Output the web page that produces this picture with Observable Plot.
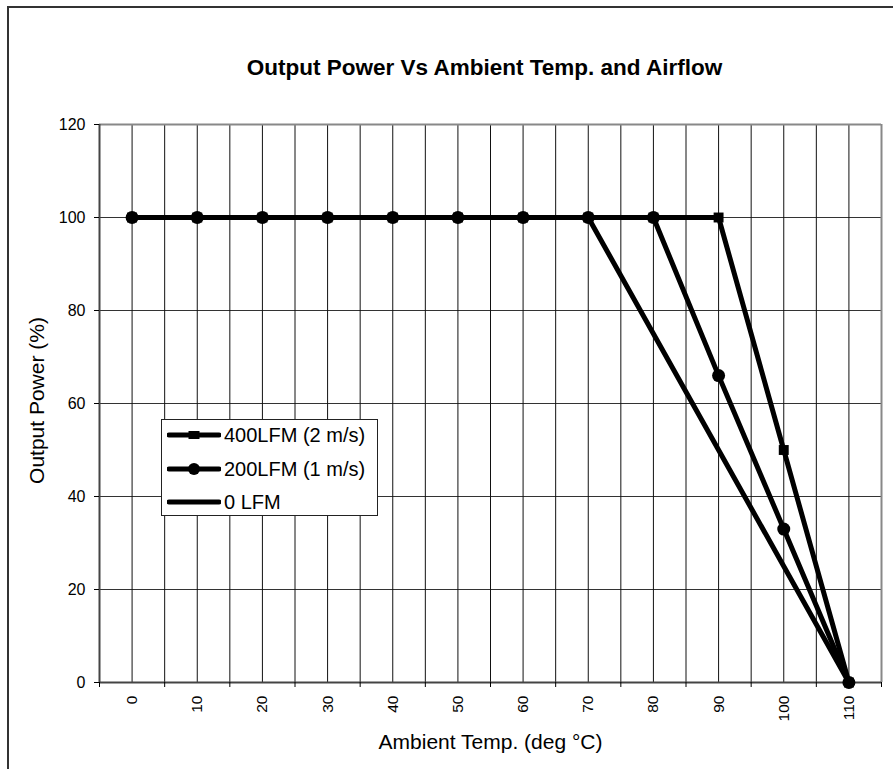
<!DOCTYPE html>
<html>
<head>
<meta charset="utf-8">
<script src="https://cdn.jsdelivr.net/npm/d3@7"></script>
<script src="https://cdn.jsdelivr.net/npm/@observablehq/plot@0.6"></script>
<style>
  html, body { margin: 0; padding: 0; background: #fff; overflow: hidden; width: 893px; height: 769px; }
  #frame { position: absolute; left: 7px; top: 6px; width: 1000px; height: 1000px; border-left: 2px solid #333; border-top: 2px solid #333; }
  #chart { position: absolute; left: 0; top: 0; }
  #legend { position: absolute; left: 161px; top: 419px; width: 217px; height: 97px; box-sizing: border-box; border: 1px solid #222; background: #fff; font-family: "Liberation Sans", Arial, sans-serif; font-size: 20px; color: #000; }
  .row { position: absolute; left: 0; height: 20px; line-height: 20px; white-space: nowrap; }
  .row svg { position: absolute; left: 5px; top: 0; }
  .row span { position: absolute; left: 62px; top: 0; }
</style>
</head>
<body>
<div id="frame"></div>
<div id="chart"></div>
<div id="legend"></div>
<script>
const temps = [0, 10, 20, 30, 40, 50, 60, 70, 80, 90, 100, 110];
const lfm400 = [100, 100, 100, 100, 100, 100, 100, 100, 100, 100, 50, 0];
const lfm200 = [100, 100, 100, 100, 100, 100, 100, 100, 100, 66, 33, 0];
const lfm0   = [100, 100, 100, 100, 100, 100, 100, 100, 75, 50, 25, 0];
const seriesNames = ["400LFM (2 m/s)", "200LFM (1 m/s)", "0 LFM"];
const seriesSymbols = ["square", "circle", null];
const yTicks = [0, 20, 40, 60, 80, 100, 120];
const xBoundaries = [-5, 5, 15, 25, 35, 45, 55, 65, 75, 85, 95, 105, 115];
const titleText = "Output Power Vs Ambient Temp. and Airflow";
const xLabelText = "Ambient Temp. (deg °C)";
const yLabelText = "Output Power (%)";

const toRows = (vals) => temps.map((t, i) => ({t, v: vals[i]}));
const rows400 = toRows(lfm400);
const rows200 = toRows(lfm200);
const rows0 = toRows(lfm0);

const font = "'Liberation Sans', Arial, sans-serif";

const chart = Plot.plot({
  width: 893,
  height: 769,
  marginTop: 124,
  marginRight: 12,
  marginBottom: 87,
  marginLeft: 99,
  style: {fontFamily: font, background: "transparent", color: "#000", overflow: "visible"},
  x: {type: "linear", domain: [xBoundaries[0], xBoundaries[xBoundaries.length - 1]], label: null},
  y: {type: "linear", domain: [yTicks[0], yTicks[yTicks.length - 1]], label: null},
  marks: [
    Plot.ruleY(yTicks, {stroke: "#333", strokeWidth: 1}),
    Plot.ruleX(temps, {stroke: "#111", strokeWidth: 1}),
    Plot.ruleX(xBoundaries.slice(1, -1), {stroke: "#111", strokeWidth: 1}),
    Plot.ruleY([yTicks[yTicks.length - 1]], {stroke: "#888", strokeWidth: 2}),
    Plot.ruleX([xBoundaries[xBoundaries.length - 1]], {stroke: "#888", strokeWidth: 2}),
    Plot.ruleX([xBoundaries[0]], {stroke: "#444", strokeWidth: 2}),
    Plot.ruleY([yTicks[0]], {stroke: "#444", strokeWidth: 2}),
    Plot.axisY({ticks: yTicks, tickSize: 5, tickPadding: 9, fontSize: 16, label: null}),
    Plot.axisX({ticks: xBoundaries, tickSize: 5, tickFormat: () => "", label: null}),
    Plot.axisX({ticks: temps, tickSize: 0, tickPadding: 13, tickRotate: -90, fontSize: 15.5, label: null}),
    Plot.line(rows0, {x: "t", y: "v", stroke: "#000", strokeWidth: 5}),
    Plot.line(rows400, {x: "t", y: "v", stroke: "#000", strokeWidth: 5}),
    Plot.line(rows200, {x: "t", y: "v", stroke: "#000", strokeWidth: 5}),
    Plot.dot(rows400, {x: "t", y: "v", symbol: "square", r: 5.6, fill: "#000", stroke: "none"}),
    Plot.dot(rows200, {x: "t", y: "v", symbol: "circle", r: 6.5, fill: "#000", stroke: "none"}),
    Plot.text([titleText], {text: d => d, frameAnchor: "top", dy: -50, dx: -6, textAnchor: "middle", lineAnchor: "bottom", fontSize: 22.5, fontWeight: "bold", fill: "#000"}),
    Plot.text([xLabelText], {text: d => d, frameAnchor: "bottom", dy: 66, textAnchor: "middle", lineAnchor: "bottom", fontSize: 21, fill: "#000"}),
    Plot.text([yLabelText], {text: d => d, frameAnchor: "left", dx: -56, dy: -3, rotate: -90, textAnchor: "middle", lineAnchor: "bottom", fontSize: 21, fill: "#000"})
  ]
});
document.getElementById("chart").appendChild(chart);

// Legend
const legend = document.getElementById("legend");
seriesNames.forEach((name, i) => {
  const row = document.createElement("div");
  row.className = "row";
  row.style.top = (5 + i * 33.5) + "px";
  const sym = seriesSymbols[i];
  let marker = "";
  if (sym === "square") marker = `<rect x="21.5" y="6" width="11" height="8" fill="#000"/>`;
  else if (sym === "circle") marker = `<circle cx="27" cy="10" r="6" fill="#000"/>`;
  row.innerHTML = `<svg width="54" height="20"><line x1="2" y1="10" x2="52" y2="10" stroke="#000" stroke-width="5" stroke-linecap="round"/>${marker}</svg><span>${name}</span>`;
  legend.appendChild(row);
});
</script>
</body>
</html>
